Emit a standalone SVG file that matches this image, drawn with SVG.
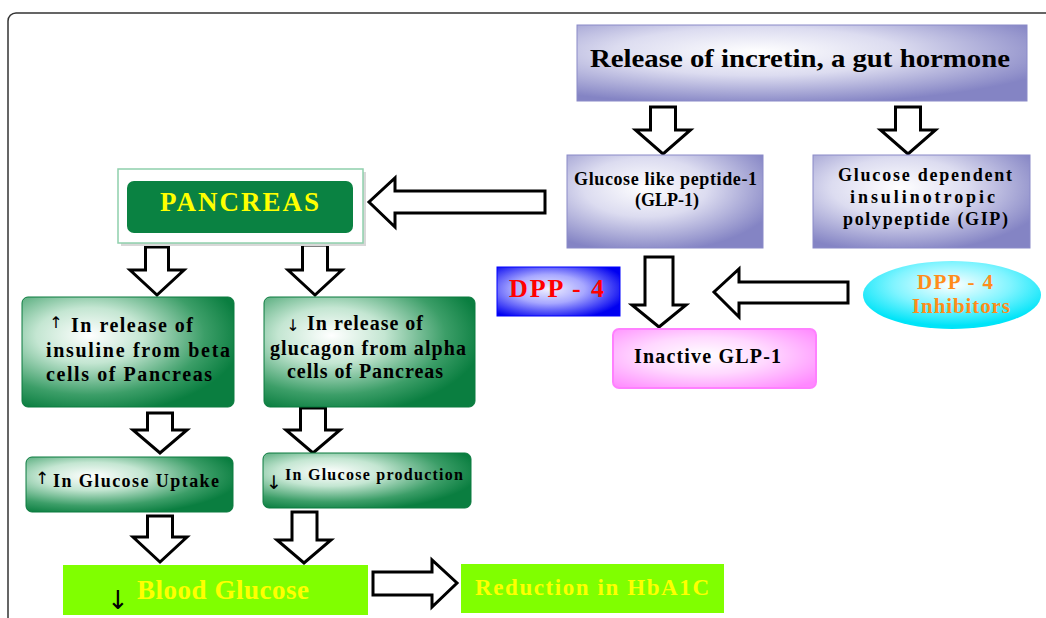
<svg xmlns="http://www.w3.org/2000/svg" width="1046" height="618" viewBox="0 0 1046 618">
<defs>
<radialGradient id="gPurple" cx="0.4" cy="0.35" r="0.7">
<stop offset="0" stop-color="#ffffff"/><stop offset="0.45" stop-color="#dcdcf0"/><stop offset="1" stop-color="#8484c4"/>
</radialGradient>
<radialGradient id="gGreen" cx="0.32" cy="0.35" r="0.72">
<stop offset="0" stop-color="#ffffff"/><stop offset="0.35" stop-color="#c4e6d2"/><stop offset="0.75" stop-color="#3c9e68"/><stop offset="1" stop-color="#0a7e40"/>
</radialGradient>
<radialGradient id="gBlue" cx="0.42" cy="0.45" r="0.65">
<stop offset="0" stop-color="#f0f0ff"/><stop offset="0.45" stop-color="#a8a8ff"/><stop offset="1" stop-color="#0000f0"/>
</radialGradient>
<radialGradient id="gCyan" cx="0.5" cy="0.35" r="0.6">
<stop offset="0" stop-color="#ffffff"/><stop offset="0.55" stop-color="#80f4ff"/><stop offset="1" stop-color="#00e4f8"/>
</radialGradient>
<radialGradient id="gPink" cx="0.45" cy="0.45" r="0.7">
<stop offset="0" stop-color="#ffffff"/><stop offset="0.45" stop-color="#ffd8ff"/><stop offset="1" stop-color="#ff88ff"/>
</radialGradient>
</defs>
<style>
.t{font-family:"Liberation Serif","Times New Roman",serif;font-weight:bold;fill:#000}
.y{fill:#ffff00}
.o{fill:#ff8c1a}
.r{fill:#ff0000}
.sym{font-family:"DejaVu Sans",sans-serif;fill:#000}
.arr{fill:#fff;stroke:#000;stroke-width:3;stroke-linejoin:miter}
.pb{fill:url(#gPurple);stroke:#8a8ac8;stroke-width:1}
.gb{fill:url(#gGreen);stroke:#0a7a3e;stroke-width:1}
.lime{fill:#80ff00}
</style>
<rect width="1046" height="618" fill="#fff"/>
<rect x="8" y="13" width="1100" height="700" rx="8" fill="none" stroke="#333" stroke-width="1.5"/>

<g id="connectors">
<path class="arr" d="M650.5,107 H675.5 V130 H690.5 L663,154 L635.5,130 H650.5 Z"/>
<path class="arr" d="M895.5,107 H920.5 V130 H935.5 L908,154 L880.5,130 H895.5 Z"/>
<path class="arr" d="M545,191 H395 V178 L369,202 L395,227 V213 H545 Z"/>
<path class="arr" d="M645,257 H673 V305 H686 L659,327 L632,305 H645 Z"/>
<path class="arr" d="M848,282 H739 V269 L714,292 L739,317 V303 H848 Z"/>
<path class="arr" d="M145.5,247 H168.5 V270 H184 L157,295 L130,270 H145.5 Z"/>
<path class="arr" d="M302.5,245 H327.5 V270 H342 L315,295 L288,270 H302.5 Z"/>
<path class="arr" d="M147.5,413 H172.5 V430 H187 L160,453 L133,430 H147.5 Z"/>
<path class="arr" d="M300.5,408 H325.5 V430 H340 L313,453 L286,430 H300.5 Z"/>
<path class="arr" d="M147.5,516 H172.5 V537 H187 L160,562 L133,537 H147.5 Z"/>
<path class="arr" d="M292,512 H317 V540 H331 L304,563 L277,540 H292 Z"/>
<path class="arr" d="M373,572 H432 V560 L457,583 L432,607 V595 H373 Z"/>
</g>

<g id="incretin">
<rect class="pb" x="577" y="25" width="450" height="76"/>
<text class="t" x="590" y="67" font-size="26" textLength="420" lengthAdjust="spacingAndGlyphs">Release of incretin, a gut hormone</text>
</g>

<g id="glp1">
<rect class="pb" x="567" y="155" width="196" height="93"/>
<text class="t" x="574" y="185" font-size="18" textLength="183" lengthAdjust="spacing">Glucose like peptide-1</text>
<text class="t" x="667" y="206" font-size="18" text-anchor="middle">(GLP-1)</text>
</g>

<g id="gip">
<rect class="pb" x="813" y="155" width="217" height="93"/>
<text class="t" x="838" y="181" font-size="18" textLength="174" lengthAdjust="spacing">Glucose dependent</text>
<text class="t" x="850" y="203" font-size="18" textLength="145" lengthAdjust="spacing">insulinotropic</text>
<text class="t" x="843" y="225" font-size="18" textLength="165" lengthAdjust="spacing">polypeptide (GIP)</text>
</g>

<g id="pancreas">
<rect x="121" y="172" width="245" height="74" fill="#d8d8d8"/>
<rect x="118" y="169" width="245" height="74" fill="#fff" stroke="#8fd0ac" stroke-width="1.5"/>
<rect x="127" y="181" width="226" height="52" rx="7" fill="#0a8242"/>
<text class="t y" x="160" y="211" font-size="27" textLength="159" lengthAdjust="spacing">PANCREAS</text>
</g>

<g id="dpp4">
<rect x="497" y="267" width="123" height="49" fill="url(#gBlue)" stroke="#0000ff" stroke-width="1"/>
<text class="t r" x="509" y="297" font-size="26" textLength="95" lengthAdjust="spacing">DPP - 4</text>
</g>

<g id="inhibitors">
<ellipse cx="952" cy="295" rx="89" ry="34" fill="url(#gCyan)"/>
<text class="t o" x="917" y="289" font-size="21" textLength="76" lengthAdjust="spacing">DPP - 4</text>
<text class="t o" x="912" y="313" font-size="21" textLength="98" lengthAdjust="spacing">Inhibitors</text>
</g>

<g id="inactive">
<rect x="613" y="329" width="203" height="59" rx="6" fill="url(#gPink)" stroke="#ff80ff" stroke-width="2"/>
<text class="t" x="634" y="363" font-size="20" textLength="147" lengthAdjust="spacing">Inactive GLP-1</text>
</g>

<g id="insulin">
<rect class="gb" x="22" y="297" width="212" height="110" rx="6"/>
<text class="sym" x="56" y="328" font-size="16" text-anchor="middle">↑</text>
<text class="t" x="71" y="332" font-size="20" textLength="122" lengthAdjust="spacing">In release of</text>
<text class="t" x="46" y="357" font-size="20" textLength="184" lengthAdjust="spacing">insuline from beta</text>
<text class="t" x="46" y="381" font-size="20" textLength="166" lengthAdjust="spacing">cells of Pancreas</text>
</g>

<g id="glucagon">
<rect class="gb" x="264" y="297" width="211" height="110" rx="6"/>
<text class="sym" x="293" y="331" font-size="16" text-anchor="middle">↓</text>
<text class="t" x="307" y="330" font-size="20" textLength="116" lengthAdjust="spacing">In release of</text>
<text class="t" x="270" y="355" font-size="20" textLength="196" lengthAdjust="spacing">glucagon from alpha</text>
<text class="t" x="287" y="378" font-size="20" textLength="156" lengthAdjust="spacing">cells of Pancreas</text>
</g>

<g id="uptake">
<rect class="gb" x="26" y="457" width="207" height="55" rx="6"/>
<text class="sym" x="42" y="484" font-size="17" text-anchor="middle">↑</text>
<text class="t" x="53" y="487" font-size="18" textLength="166" lengthAdjust="spacing">In Glucose Uptake</text>
</g>

<g id="production">
<rect class="gb" x="263" y="453" width="208" height="55" rx="6"/>
<text class="sym" x="274" y="489" font-size="19" text-anchor="middle">↓</text>
<text class="t" x="285" y="480" font-size="16" textLength="178" lengthAdjust="spacing">In Glucose production</text>
</g>

<g id="blood">
<rect class="lime" x="63" y="565" width="305" height="50"/>
<text class="sym" x="118" y="609" font-size="26" text-anchor="middle">↓</text>
<text class="t y" x="137" y="599" font-size="27" textLength="172" lengthAdjust="spacing">Blood Glucose</text>
</g>

<g id="hba1c">
<rect class="lime" x="461" y="564" width="263" height="49"/>
<text class="t y" x="475" y="595" font-size="23" textLength="234" lengthAdjust="spacing">Reduction in HbA1C</text>
</g>
</svg>
